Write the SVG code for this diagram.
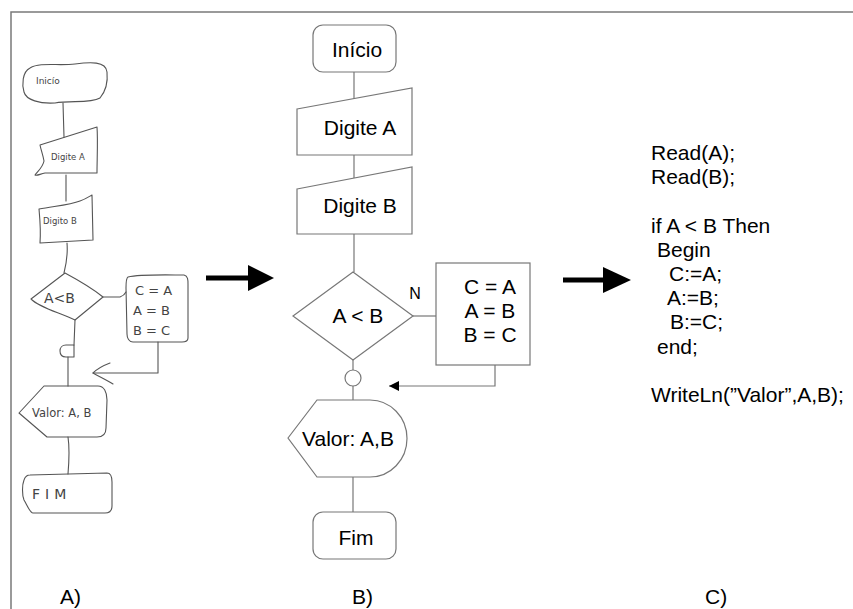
<svg xmlns="http://www.w3.org/2000/svg" width="853" height="609" viewBox="0 0 853 609">
  <defs>
    <style>
      .frame { stroke: #7a7a7a; stroke-width: 1.5; fill: none; }
      .hand { stroke: #555; stroke-width: 1.1; fill: none; stroke-linejoin: round; stroke-linecap: round; }
      .handtxt { font-family: "DejaVu Sans", "Liberation Sans", sans-serif; fill: #444; }
      .node { stroke: #777; stroke-width: 1.2; fill: #fff; }
      .edge { stroke: #777; stroke-width: 1.2; fill: none; }
      .txt { font-family: "Liberation Sans", Arial, sans-serif; font-size: 21px; fill: #000; text-anchor: middle; }
      .code { font-family: "Liberation Sans", Arial, sans-serif; font-size: 21px; fill: #000; }
      .label { font-family: "Liberation Sans", Arial, sans-serif; font-size: 21px; fill: #000; }
      .big { stroke: #000; stroke-width: 5; fill: none; }
    </style>
    <marker id="tri" viewBox="0 0 10 10" refX="10" refY="5" markerWidth="10" markerHeight="10" markerUnits="userSpaceOnUse" orient="auto">
      <path d="M0,0 L10,5 L0,10 Z" fill="#000"/>
    </marker>
  </defs>

  <rect width="853" height="609" fill="#fff"/>

  <!-- frame -->
  <path class="frame" d="M11,609 L11,12 L853,12"/>

  <!-- A) hand-drawn sketch -->
  <g id="sketch">
    <g id="a-inicio">
      <path class="hand" d="M30,68 C40,62 58,66 75,64 C90,62 106,61 107,72 C108,82 105,92 100,98 C90,104 70,100 55,103 C40,104 26,100 24,92 C22,85 22,72 30,68 Z"/>
      <text class="handtxt" x="36" y="84" font-size="9">Inicío</text>
    </g>
    <g id="a-digite-a">
      <path class="hand" d="M40,145 L97,127 C98,140 97,160 97,173 L45,173 C40,174 37,176 35,175 C38,171 43,167 44,161 C43,155 41,150 40,145 Z"/>
      <text class="handtxt" x="51" y="160" font-size="8.5">Digite A</text>
    </g>
    <g id="a-digite-b">
      <path class="hand" d="M39,209 C55,206 70,205 80,201 C86,199 90,196 92,195 L93,240 L40,243 C41,230 40,220 39,209 Z"/>
      <text class="handtxt" x="43" y="224" font-size="8.5">Digito B</text>
    </g>
    <g id="a-decisao">
      <path class="hand" d="M65,273 L31,299 C40,308 58,312 75,320 L103,297 C92,288 78,280 65,273 Z"/>
      <text class="handtxt" x="44" y="303" font-size="14">A&lt;B</text>
    </g>
    <g id="a-troca">
      <path class="hand" d="M128,277 C140,274 170,275 184,275 C188,276 188,280 188,284 L188,338 C188,341 185,342 182,342 L133,342 C129,342 127,338 127,334 L126,288 C126,282 126,278 128,277 Z"/>
      <text class="handtxt" x="135" y="295" font-size="13">C = A</text>
      <text class="handtxt" x="133" y="315" font-size="13">A = B</text>
      <text class="handtxt" x="133" y="335" font-size="13">B = C</text>
    </g>
    <g id="a-conector">
      <path class="hand" d="M74,345 L66,345 C62,345 60,348 60,351 C60,355 62,357 66,357 L74,357 Z"/>
    </g>
    <g id="a-valor">
      <path class="hand" d="M19,413 L44,386 L98,386 C104,386 107,392 107,400 L106,428 C106,434 103,437 97,437 L47,437 Z"/>
      <text class="handtxt" x="32" y="417" font-size="11.5">Valor: A, B</text>
    </g>
    <g id="a-fim">
      <path class="hand" d="M30,475 L107,473 C111,473 112,477 112,482 L112,506 C112,511 109,513 105,513 L33,513 C30,513 27,505 24,500 C22,495 22,485 24,480 C25,477 27,475 30,475 Z"/>
      <text class="handtxt" x="32" y="499" font-size="14" letter-spacing="5">FIM</text>
    </g>
    <g id="a-links">
      <path class="hand" d="M63,103 L64,137"/>
      <path class="hand" d="M66,175 L66,201"/>
      <path class="hand" d="M67,243 C68,255 66,265 64,273"/>
      <path class="hand" d="M103,297 L120,297 C123,296 125,294 126,292"/>
      <path class="hand" d="M75,320 L74,345"/>
      <path class="hand" d="M68,357 L68,386"/>
      <path class="hand" d="M158,342 L158,373 L93,373"/>
      <path class="hand" d="M110,363 C102,366 97,369 93,373 C100,377 107,380 113,384"/>
      <path class="hand" d="M68,437 C70,450 69,462 68,474"/>
    </g>
  </g>

  <!-- transition arrows -->
  <g id="arrows">
    <path class="big" d="M206,278 L250,278"/>
    <path d="M248,265 L274,278 L248,291 Z" fill="#000"/>
    <path class="big" d="M563,280 L605,280"/>
    <path d="M603,267 L631,280 L603,293 Z" fill="#000"/>
  </g>

  <!-- B) flowchart connectors -->
  <g id="connectors">
    <path class="edge" d="M354,72 L354,99"/>
    <path class="edge" d="M354,155 L354,178"/>
    <path class="edge" d="M354,234 L354,272"/>
    <path class="edge" d="M413,316 L436,316"/>
    <path class="edge" d="M353,360 L353,370"/>
    <path class="edge" d="M353,386 L353,400"/>
    <path class="edge" d="M495,365 L495,386 L389,386" marker-end="url(#tri)"/>
    <path class="edge" d="M353,477 L353,512"/>
  </g>

  <!-- B) flowchart nodes -->
  <g id="inicio">
    <rect class="node" x="313" y="25" width="83" height="47" rx="10"/>
    <text class="txt" x="357" y="57">Início</text>
  </g>
  <g id="digite-a">
    <path class="node" d="M297,109 L412,88 L412,155 L297,155 Z"/>
    <text class="txt" x="360" y="135">Digite A</text>
  </g>
  <g id="digite-b">
    <path class="node" d="M297,189 L412,167 L412,234 L297,234 Z"/>
    <text class="txt" x="360" y="213">Digite B</text>
  </g>
  <g id="decisao">
    <path class="node" d="M353,272 L413,316 L353,360 L293,316 Z"/>
    <text class="txt" x="358" y="323">A &lt; B</text>
    <text class="txt" x="415" y="299" style="font-size:16px">N</text>
  </g>
  <g id="troca">
    <rect class="node" x="436" y="263" width="94" height="102"/>
    <text class="txt" x="490" y="294">C = A</text>
    <text class="txt" x="490" y="318">A = B</text>
    <text class="txt" x="490" y="342">B = C</text>
  </g>
  <g id="juncao">
    <circle class="node" cx="353" cy="378" r="8"/>
  </g>
  <g id="valor">
    <path class="node" d="M288,438 L317,400 L370,400 A37,38.5 0 0 1 370,477 L317,477 Z"/>
    <text class="txt" x="348" y="446">Valor: A,B</text>
  </g>
  <g id="fim">
    <rect class="node" x="313" y="512" width="83" height="47" rx="10"/>
    <text class="txt" x="356" y="545">Fim</text>
  </g>

  <!-- C) Pascal code -->
  <g id="codigo">
    <text class="code" x="651" y="160">Read(A);</text>
    <text class="code" x="651" y="184">Read(B);</text>
    <text class="code" x="651" y="233">if A &lt; B Then</text>
    <text class="code" x="657" y="257">Begin</text>
    <text class="code" x="669" y="281">C:=A;</text>
    <text class="code" x="667" y="305">A:=B;</text>
    <text class="code" x="670" y="329">B:=C;</text>
    <text class="code" x="657" y="354">end;</text>
    <text class="code" x="651" y="402">WriteLn(”Valor”,A,B);</text>
  </g>

  <!-- panel labels -->
  <g id="rotulos">
    <text class="label" x="60" y="604">A)</text>
    <text class="label" x="352" y="604">B)</text>
    <text class="label" x="705" y="604">C)</text>
  </g>
</svg>
